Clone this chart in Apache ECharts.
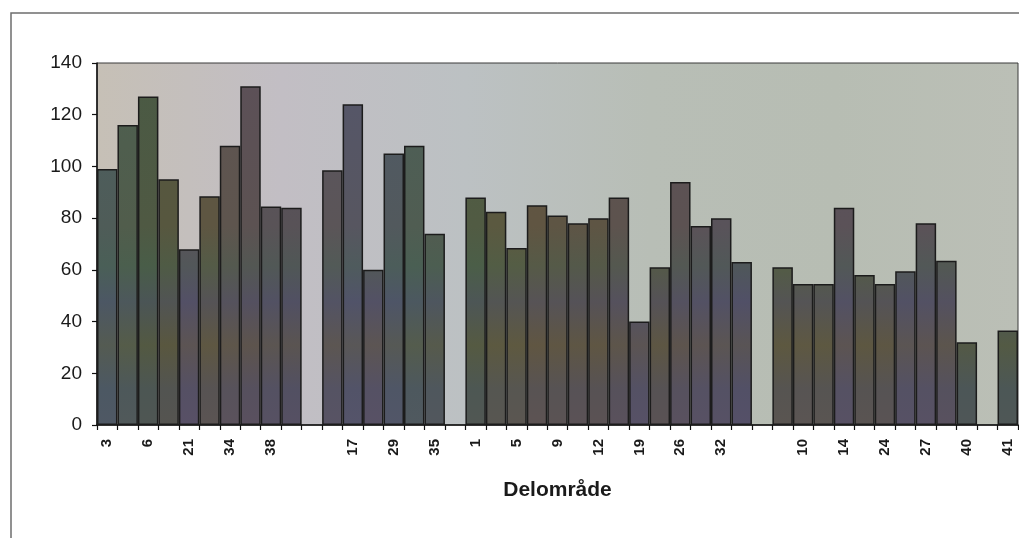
<!DOCTYPE html>
<html>
<head>
<meta charset="utf-8">
<script src="https://cdn.jsdelivr.net/npm/echarts@6/dist/echarts.min.js"></script>
<style>
html,body{margin:0;padding:0;background:#fff;}
#chart{width:1019px;height:538px;}
</style>
</head>
<body>
<div id="chart"></div>
<script>
// Delområde categories ('' = unlabeled category / empty gap slot)
const categories = ['3','','6','','21','','34','','38','',
  '','','17','','29','','35','',
  '1','','5','','9','','12','','19','','26','','32','',
  '','','10','','14','','24','','27','','40','','41'];
// bar values (null = gap between groups)
const values = [99,116,127,95,68,88.5,108,131,84.5,84,
  null,98.5,124,60,105,108,74,null,
  88,82.5,68.5,85,81,78,80,88,40,61,94,77,80,63,
  null,61,54.5,54.5,84,58,54.5,59.5,78,63.5,32,
  null,36.5];
const yTicks = {min:0, max:140, interval:20};

// bar tints (style only)
const tints = ['#4b5e60','#4d5f50','#4a5a44','#55573f','#5a5063','#5e5643','#5e5452','#5c5058','#58525e','#56505e',
  null,'#5a5560','#55566a','#5a5262','#4f5a66','#4c5f58','#4f5c55',null,
  '#4d5c44','#5a5a40','#5e5a40','#615543','#5f5545','#5e5448','#5f5445','#5d5252','#585163','#5d5445','#5c5158','#5a5160','#585262','#555066',
  null,'#5c5840','#5e5843','#5c5842','#5a5160','#5c5642','#5d5545','#585262','#5a5160','#5b5258','#4a5a4a',
  null,'#4a5c48'];

function hex(c){return [parseInt(c.substr(1,2),16),parseInt(c.substr(3,2),16),parseInt(c.substr(5,2),16)];}
function mix(a,b,t){const A=hex(a),B=hex(b);return 'rgb('+A.map((v,i)=>Math.round(v*(1-t)+B[i]*t)).join(',')+')';}

const chart = echarts.init(document.getElementById('chart'));
const gridTop = 63, gridBottom = 113;
const yTopPx = gridTop, yBotPx = 538 - gridBottom;

const data = values.map((v,i)=>{
  if (v === null) return '-';
  const t = tints[i] || '#585262';
  return {
    value: v,
    itemStyle: {
      color: new echarts.graphic.LinearGradient(0, yTopPx, 0, yBotPx, [
        {offset:0, color:t},
        {offset:0.45, color:mix(t,'#5c5640',0.25)},
        {offset:0.56, color:mix(t,'#48604c',0.45)},
        {offset:0.66, color:mix(t,'#4c5068',0.5)},
        {offset:0.78, color:mix(t,'#5e5840',0.45)},
        {offset:0.9, color:mix(t,'#4e5066',0.45)},
        {offset:1, color:mix(t,'#56506a',0.4)}
      ], true)
    }
  };
});

const font = 'Liberation Sans, Arial, sans-serif';

chart.setOption({
  animation:false,
  backgroundColor:'#ffffff',
  grid:{
    left:97, right:1, top:gridTop, bottom:gridBottom,
    show:true,
    borderColor:'#3a3a3a', borderWidth:1,
    backgroundColor:new echarts.graphic.LinearGradient(0,0,1,0,[
      {offset:0,color:'#c6c0b6'},
      {offset:0.2,color:'#c2bec4'},
      {offset:0.4,color:'#bcc1c3'},
      {offset:0.6,color:'#b8beb6'},
      {offset:0.8,color:'#b7bdb3'},
      {offset:1,color:'#bbbfb6'}
    ])
  },
  xAxis:{
    type:'category',
    data:categories,
    boundaryGap:true,
    name:'Delområde',
    nameLocation:'middle',
    nameGap:55,
    nameTextStyle:{fontFamily:font,fontWeight:'bold',fontSize:21,color:'#1a1a1a'},
    axisLine:{show:true,lineStyle:{color:'#111',width:1.5}},
    axisTick:{show:true,interval:0,alignWithLabel:false,length:5,lineStyle:{color:'#111',width:1.2}},
    axisLabel:{interval:0,rotate:90,margin:14,fontFamily:font,fontWeight:'bold',fontSize:15,color:'#1a1a1a'},
    splitLine:{show:false}
  },
  yAxis:{
    type:'value',
    min:yTicks.min, max:yTicks.max, interval:yTicks.interval,
    axisLine:{show:true,lineStyle:{color:'#111',width:1.5}},
    axisTick:{show:true,inside:false,length:5,lineStyle:{color:'#111',width:1.2}},
    axisLabel:{margin:15,fontFamily:font,fontSize:19,color:'#1a1a1a'},
    splitLine:{show:false}
  },
  series:[{
    type:'bar',
    data:data,
    barWidth:'100%',
    barCategoryGap:'0%',
    itemStyle:{borderColor:'#1c1c1c',borderWidth:1.5}
  }],
  graphic:[{
    type:'polyline',
    shape:{points:[[11,538],[11,13],[1019,13]]},
    style:{stroke:'#6e6e6e',lineWidth:1.5,fill:null},
    silent:true
  }]
});
</script>
</body>
</html>
